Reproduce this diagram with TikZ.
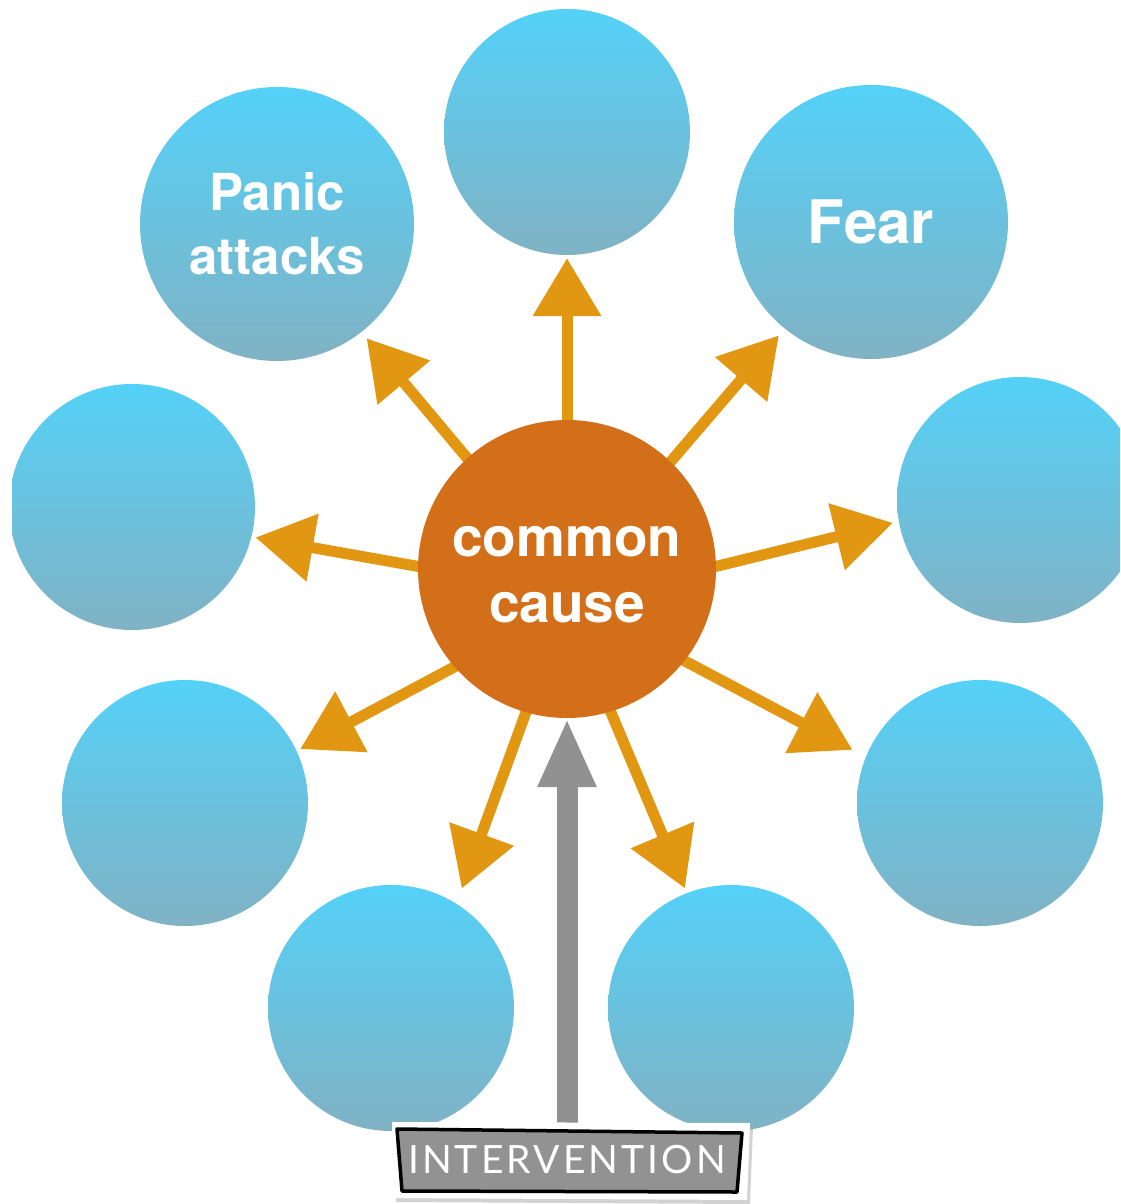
\documentclass[tikz,border=0pt]{standalone}
\usepackage{fontspec}
\setmainfont{TeX Gyre Heros}
\newfontfamily\labelfont[LetterSpace=8]{Lato}
\usetikzlibrary{arrows.meta,backgrounds}

\definecolor{circtop}{RGB}{84,209,248}
\definecolor{circbot}{RGB}{128,178,196}
\definecolor{causeorange}{RGB}{210,111,24}
\definecolor{arroworange}{RGB}{226,151,18}
\definecolor{arrowgray}{RGB}{145,145,145}
\definecolor{boxgray}{RGB}{146,146,146}

\begin{document}
\begin{tikzpicture}[x=1pt,y=-1pt,
  bubble/.style={circle, inner sep=0pt, minimum size=246pt,
    top color=circtop, bottom color=circbot, draw=none,
    text=white, align=center},
  bigbubble/.style={bubble, minimum size=274pt},
  causenode/.style={circle, inner sep=0pt, minimum size=298pt,
    fill=causeorange, text=white, align=center,
    font=\bfseries\fontsize{55}{66}\selectfont},
  effect/.style={draw=arroworange, line width=11pt,
    -{Triangle[length=58pt,width=66pt]}, shorten <=-12pt},
  push/.style={draw=arrowgray, line width=21pt,
    -{Triangle[length=69pt,width=54pt]}}
]
\useasboundingbox (0,0) rectangle (1120,1204);

% ring of symptom bubbles (left and right ones run off the page)
\begin{scope}
  \clip (12,0) rectangle (1120,1204);
  \node[bubble] (n) at (567,132) {};
  \node[bigbubble, font=\bfseries\fontsize{51}{64}\selectfont] (panic) at (277,224) {Panic\\attacks};
  \node[bigbubble, font=\bfseries\fontsize{60}{70}\selectfont] (fear) at (871,222) {Fear};
  \node[bubble] (w) at (132,507) {};
  \node[bubble] (e) at (1020,500) {};
  \node[bubble] (sw) at (185,803) {};
  \node[bubble] (se) at (980,803) {};
  \node[bubble] (ssw) at (391,1008) {};
  \node[bubble] (sse) at (731,1008) {};
\end{scope}

% central cause
\node[causenode] (cc) at (567,569) {};
\node[text=white, align=center, font=\bfseries\fontsize{55}{66}\selectfont]
  (cctext) at (567,575) {common\\cause};

% intervention label on a small card
\fill[black!35, opacity=0.5] (395,1126) -- (753,1127) -- (750,1204) -- (396,1202) -- cycle;
\fill[white] (392,1122) -- (750,1123) -- (747,1200) -- (393,1198) -- cycle;
\draw[fill=boxgray, line width=3.5pt, line join=round]
  (397,1129) -- (742,1133) -- (737,1192) -- (402,1191) -- cycle;
\node[text=white, inner sep=0pt, minimum width=330pt, minimum height=58pt,
  font=\labelfont\fontsize{39}{40}\selectfont] (intervention) at (567,1160) {INTERVENTION};

\begin{pgfonlayer}{background}
  % arrows radiating from the common cause
  \draw[effect, shorten >=3pt]  (cc.90)    -- (n.270);
  \draw[effect, shorten >=8pt]  (cc.132)   -- (panic.-52);
  \draw[effect, shorten >=9pt]  (cc.46)    -- (fear.-129);
  \draw[effect, shorten >=4pt]  (cc.179)   -- (w.-14);
  \draw[effect, shorten >=6pt]  (cc.1)     -- (e.190);
  \draw[effect, shorten >=4pt]  (cc.221)   -- (sw.25);
  \draw[effect, shorten >=15pt] (cc.-38)   -- (se.158);
  \draw[effect, shorten >=16pt] (cc.-106)  -- (ssw.58);
  \draw[effect, shorten >=5pt]  (cc.-73)   -- (sse.111);
  % intervention pushing on the cause
  \draw[push] (intervention.north) -- (cc.south);
\end{pgfonlayer}
\end{tikzpicture}
\end{document}
